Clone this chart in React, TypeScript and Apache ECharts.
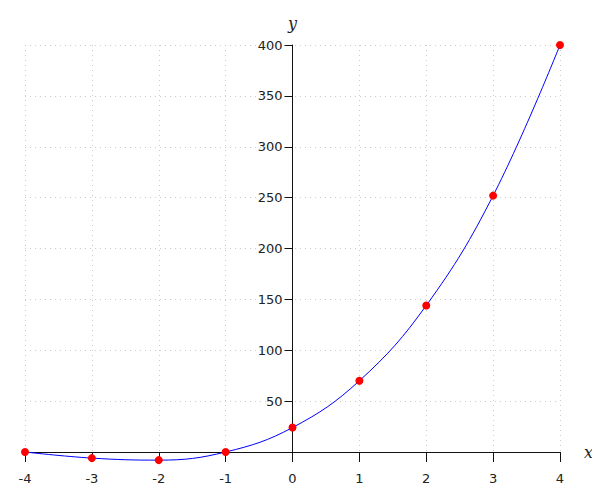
import React, { useEffect, useRef } from "react";
import * as echarts from "echarts";

const xValues = [-4, -3, -2, -1, 0, 1, 2, 3, 4];
const yValues = [0, -6, -8, 0, 24, 70, 144, 252, 400];

export default function App() {
  const ref = useRef<HTMLDivElement>(null);
  useEffect(() => {
    if (!ref.current) return;
    const chart = echarts.init(ref.current, undefined, { renderer: "svg" });
    const data = xValues.map((x, i) => [x, yValues[i]]);
    const labelColor = "#222";
    const gridLeft = 25;
    const gridWidth = 535;
    const xMin = -4;
    const xMax = 4;
    const zeroOffset = -((0 - xMin) / (xMax - xMin)) * gridWidth;
    chart.setOption({
      animation: false,
      backgroundColor: "#fff",
      grid: { left: gridLeft, width: gridWidth, top: 45, bottom: 48, containLabel: false, outerBoundsMode: "none" },
      xAxis: {
        type: "value",
        min: xMin,
        max: xMax,
        interval: 1,
        name: "x",
        nameLocation: "end",
        nameGap: 24,
        nameTextStyle: { fontFamily: "DejaVu Serif", fontStyle: "italic", fontSize: 16, color: "#222", verticalAlign: "middle" },
        axisLine: { onZero: true, lineStyle: { color: "#111", width: 1 } },
        axisTick: { show: true, length: 10, inside: false, lineStyle: { color: "#111" } },
        axisLabel: { margin: 20, fontSize: 13, fontFamily: "DejaVu Sans", color: labelColor },
        splitLine: { show: true, lineStyle: { color: "#ccc", type: [1, 4], width: 1 } },
      },
      yAxis: {
        type: "value",
        min: 0,
        max: 400,
        interval: 50,
        position: "left",
        offset: zeroOffset,
        name: "y",
        nameLocation: "end",
        nameGap: 14,
        nameTextStyle: { fontFamily: "DejaVu Serif", fontStyle: "italic", fontSize: 16, color: "#222", align: "center" },
        axisLine: { show: true, onZero: false, lineStyle: { color: "#111", width: 1 } },
        axisTick: { show: true, length: 8, lineStyle: { color: "#111" } },
        axisLabel: {
          margin: 10,
          fontSize: 13,
          fontFamily: "DejaVu Sans",
          color: labelColor,
          formatter: (v: number) => (v === 0 ? "" : String(v)),
        },
        splitLine: { show: true, lineStyle: { color: "#ccc", type: [1, 4], width: 1 } },
      },
      series: [
        {
          type: "line",
          data,
          smooth: 0.4,
          clip: false,
          symbol: "circle",
          symbolSize: 8,
          showSymbol: true,
          lineStyle: { color: "#0000ff", width: 1 },
          itemStyle: { color: "#ff0000", borderWidth: 0 },
        },
      ],
    });
    return () => chart.dispose();
  }, []);
  return <div ref={ref} style={{ width: 600, height: 500, margin: -8 }} />;
}
